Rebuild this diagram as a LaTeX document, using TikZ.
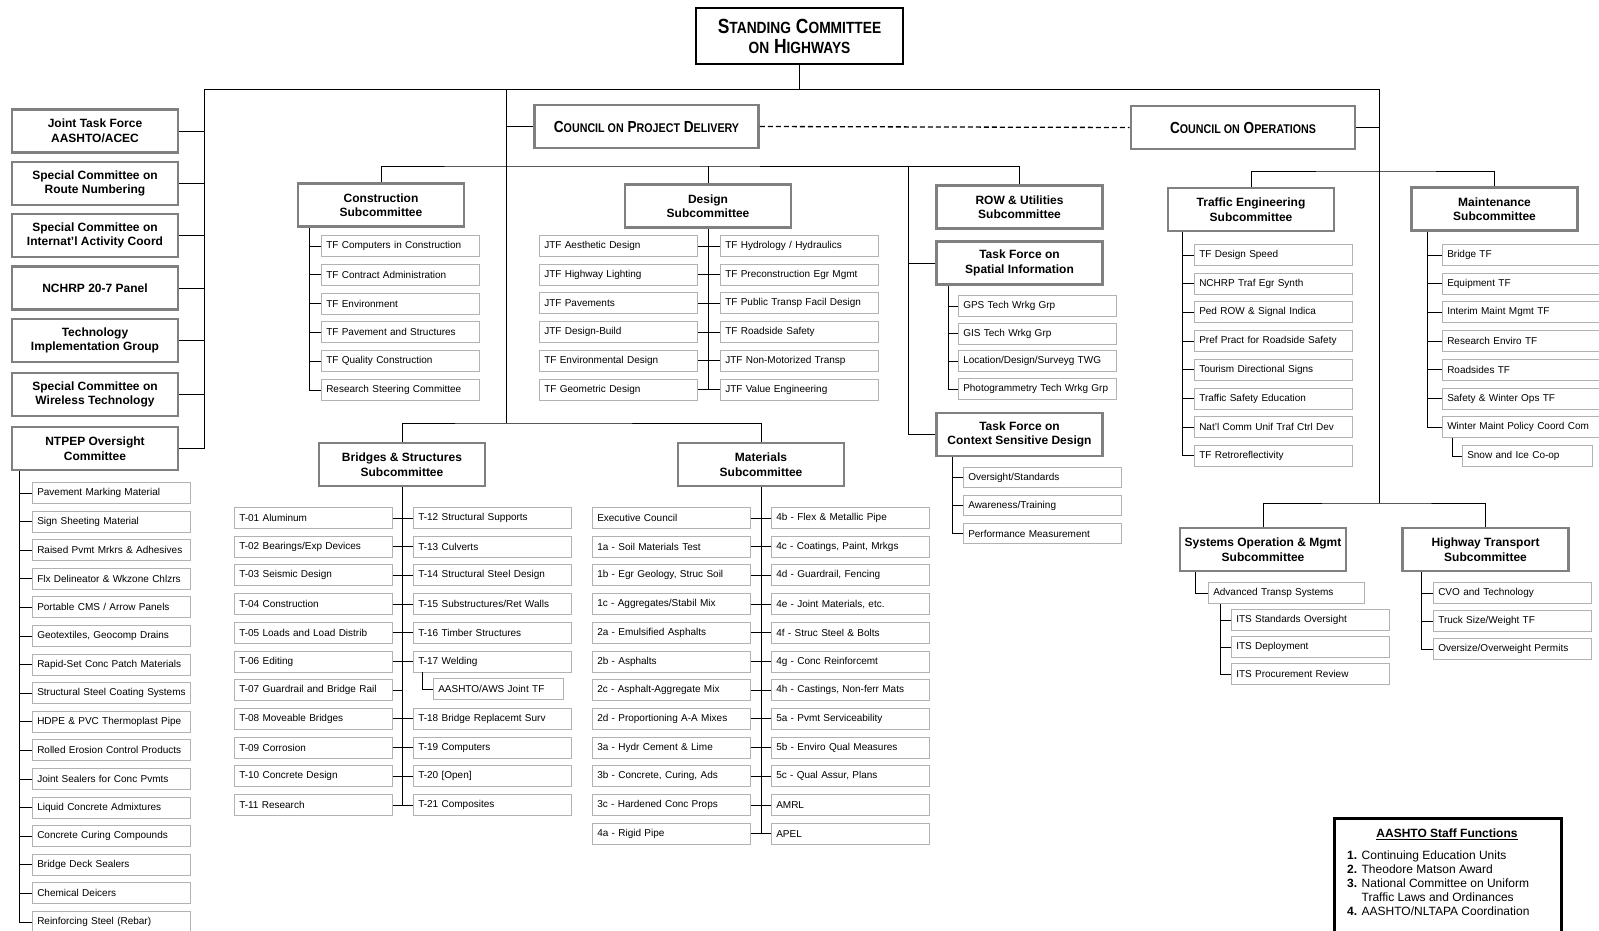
\documentclass[tikz,border=0pt]{standalone}
\usepackage{fontspec}
\setmainfont{Liberation Sans}
\newfontfamily\narrowfont[FakeStretch=0.85]{Liberation Sans}
\newcommand\smc[2][12.6]{{\fontsize{#1}{16}\selectfont #2}}

\tikzset{
  bigbox/.style={draw=black!50, line width=2.8pt, fill=white, align=center,
    minimum width=166pt, minimum height=43pt, inner sep=1pt,
    font=\fontsize{12}{14.5}\selectfont\bfseries},
  councilbox/.style={bigbox, minimum width=224pt,
    font=\narrowfont\bfseries\fontsize{16}{18}\selectfont},
  smallbox/.style={draw=black!30, line width=0.9pt, anchor=north west,
    minimum height=21pt, text width=148.5pt, inner xsep=4.8pt, inner ysep=0pt,
    align=left, font=\fontsize{10}{11}\selectfont},
  link/.style={line width=0.9pt},
}

\begin{document}
\begin{tikzpicture}[x=1pt, y=-1pt]
\useasboundingbox (0,0) rectangle (1599,930);
\fill[white] (0,0) rectangle (1599,930);

% top
\node[draw, line width=2.8pt, minimum width=207pt, minimum height=56pt, align=center,
  font=\narrowfont\bfseries\fontsize{20.5}{20}\selectfont] (sch) at (799.5,36)
  {S\smc[16.2]{TANDING} C\smc[16.2]{OMMITTEE}\\\smc[16.2]{ON} H\smc[16.2]{IGHWAYS}};
\coordinate (busL) at (204,89);
\coordinate (busM) at (506,89);
\coordinate (busR) at (1379,89);
\draw[link] (sch.south) -- (sch.south |- busL);
\draw[link] (busL) -- (busR);

% special committees
\node[bigbox] (jtf)   at (95,131)   {Joint Task Force\\AASHTO/ACEC};
\node[bigbox] (scrn)  at (95,183.5) {Special Committee on\\Route Numbering};
\node[bigbox] (scia)  at (95,235.5) {Special Committee on\\Internat'l Activity Coord};
\node[bigbox] (nchrp) at (95,288)   {NCHRP 20-7 Panel};
\node[bigbox] (tig)   at (95,340.5) {Technology\\Implementation Group};
\node[bigbox] (scwt)  at (95,394.5) {Special Committee on\\Wireless Technology};
\node[bigbox] (ntpep) at (95,448.5) {NTPEP Oversight\\Committee};
\draw[link] (busL) -- (busL |- ntpep.east);
\foreach \n in {jtf,scrn,scia,nchrp,tig,scwt,ntpep}
  \draw[link] (\n.east) -- (\n.east -| busL);

\foreach \t [count=\i from 0] in {Pavement Marking Material, Sign Sheeting Material,
    Raised Pvmt Mrkrs \& Adhesives, Flx Delineator \& Wkzone Chlzrs,
    Portable CMS / Arrow Panels, {Geotextiles, Geocomp Drains},
    Rapid-Set Conc Patch Materials, Structural Steel Coating Systems,
    HDPE \& PVC Thermoplast Pipe, Rolled Erosion Control Products,
    Joint Sealers for Conc Pvmts, Liquid Concrete Admixtures,
    Concrete Curing Compounds, Bridge Deck Sealers, Chemical Deicers,
    Reinforcing Steel (Rebar)}
  \node[smallbox] (nt\i) at (32,482+28.6*\i) {\t};
\draw[link] ([xshift=9pt]ntpep.south west) coordinate (ntbar) |- (nt15.west);
\foreach \i in {0,...,14} \draw[link] (ntbar |- nt\i.west) -- (nt\i.west);

% project delivery
\node[councilbox] (cpd) at (646.5,126.5) {C\smc{OUNCIL ON} P\smc{ROJECT} D\smc{ELIVERY}};
\node[bigbox] (cs)      at (381,205)      {Construction\\Subcommittee};
\node[bigbox] (ds)      at (708,206)      {Design\\Subcommittee};
\node[bigbox] (row)     at (1019.5,207)   {ROW \& Utilities\\Subcommittee};
\node[bigbox] (spatial) at (1019.5,263)   {Task Force on\\Spatial Information};
\node[bigbox] (csd)     at (1019.5,434.5) {Task Force on\\Context Sensitive Design};
\node[bigbox] (bs)      at (402,464.5)    {Bridges \& Structures\\Subcommittee};
\node[bigbox] (mats)    at (761,464.5)    {Materials\\Subcommittee};
\coordinate (pdA) at (506,166);
\coordinate (pdB) at (506,423);
\coordinate (pdC) at (908,166);
\draw[link] (busM) -- (pdB);
\draw[link] (cpd.west) -- (cpd.west -| busM);
\draw[link] (cs.north) |- (pdA) -| (row.north);
\draw[link] (ds.north) -- (ds.north |- pdA);
\draw[link] (pdC) |- (csd.west);
\draw[link] (spatial.west) -- (spatial.west -| pdC);
\draw[link] (bs.north) |- (pdB) -| (mats.north);

\foreach \t [count=\i from 0] in {TF Computers in Construction, TF Contract Administration,
    TF Environment, TF Pavement and Structures, TF Quality Construction,
    Research Steering Committee}
  \node[smallbox] (cs\i) at (321,235+28.8*\i) {\t};
\draw[link] ([xshift=13pt]cs.south west) coordinate (csbar) |- (cs5.west);
\foreach \i in {0,...,4} \draw[link] (csbar |- cs\i.west) -- (cs\i.west);

\foreach \t [count=\i from 0] in {JTF Aesthetic Design, JTF Highway Lighting, JTF Pavements,
    JTF Design-Build, TF Environmental Design, TF Geometric Design}
  \node[smallbox] (dl\i) at (539,235+28.7*\i) {\t};
\foreach \t [count=\i from 0] in {TF Hydrology / Hydraulics, TF Preconstruction Egr Mgmt,
    TF Public Transp Facil Design, TF Roadside Safety, JTF Non-Motorized Transp,
    JTF Value Engineering}
  \node[smallbox] (dr\i) at (720,235+28.7*\i) {\t};
\draw[link] (ds.south) -- (ds.south |- dl5.east);
\foreach \i in {0,...,5} \draw[link] (dl\i.east) -- (dr\i.west);

\foreach \t [count=\i from 0] in {GPS Tech Wrkg Grp, GIS Tech Wrkg Grp,
    Location/Design/Surveyg TWG, Photogrammetry Tech Wrkg Grp}
  \node[smallbox] (sp\i) at (958,295+27.7*\i) {\t};
\draw[link] ([xshift=13pt]spatial.south west) coordinate (spbar) |- (sp3.west);
\foreach \i in {0,...,2} \draw[link] (spbar |- sp\i.west) -- (sp\i.west);

\foreach \t [count=\i from 0] in {Oversight/Standards, Awareness/Training,
    Performance Measurement}
  \node[smallbox, minimum height=20pt] (cd\i) at (963,467+28*\i) {\t};
\draw[link] ([xshift=17pt]csd.south west) coordinate (cdbar) |- (cd2.west);
\foreach \i in {0,1} \draw[link] (cdbar |- cd\i.west) -- (cd\i.west);

\foreach \t [count=\i from 0] in {T-01 Aluminum, T-02 Bearings/Exp Devices, T-03 Seismic Design,
    T-04 Construction, T-05 Loads and Load Distrib, T-06 Editing,
    T-07 Guardrail and Bridge Rail, T-08 Moveable Bridges, T-09 Corrosion,
    T-10 Concrete Design, T-11 Research}
  \node[smallbox] (bl\i) at (234,507+28.7*\i) {\t};
\foreach \r/\t in {0/T-12 Structural Supports, 1/T-13 Culverts, 2/T-14 Structural Steel Design,
    3/{T-15 Substructures/Ret Walls}, 4/T-16 Timber Structures, 5/T-17 Welding,
    7/T-18 Bridge Replacemt Surv, 8/T-19 Computers, 9/{T-20 [Open]}, 10/T-21 Composites}
  {\node[smallbox] (br\r) at (413,507+28.7*\r) {\t};
   \draw[link] (bl\r.east) -- (br\r.west);}
\node[smallbox, text width=120pt] (aws) at (433,678) {AASHTO/AWS Joint TF};
\draw[link] (aws.west) -| ([xshift=9pt]br5.south west);
\draw[link] (bs.south) -- (bs.south |- bl10.east);
\draw[link] (bl6.east) -- (bl6.east -| bs.south);

\foreach \t [count=\i from 0] in {Executive Council, 1a - Soil Materials Test,
    {1b - Egr Geology, Struc Soil}, 1c - Aggregates/Stabil Mix, 2a - Emulsified Asphalts,
    2b - Asphalts, 2c - Asphalt-Aggregate Mix, 2d - Proportioning A-A Mixes,
    3a - Hydr Cement \& Lime, {3b - Concrete, Curing, Ads}, 3c - Hardened Conc Props,
    4a - Rigid Pipe}
  \node[smallbox] (ml\i) at (592,507+28.7*\i) {\t};
\foreach \t [count=\i from 0] in {4b - Flex \& Metallic Pipe, {4c - Coatings, Paint, Mrkgs},
    {4d - Guardrail, Fencing}, {4e - Joint Materials, etc.}, 4f - Struc Steel \& Bolts,
    4g - Conc Reinforcemt, {4h - Castings, Non-ferr Mats}, 5a - Pvmt Serviceability,
    5b - Enviro Qual Measures, {5c - Qual Assur, Plans}, AMRL, APEL}
  \node[smallbox] (mr\i) at (771,507+28.7*\i) {\t};
\draw[link] (mats.south) -- (mats.south |- ml11.east);
\foreach \i in {0,...,11} \draw[link] (ml\i.east) -- (mr\i.west);

% operations
\node[councilbox] (coo) at (1243,127.5) {C\smc{OUNCIL ON} O\smc{PERATIONS}};
\draw[dashed, line width=1.3pt, dash pattern=on 5pt off 3pt] (cpd.east) -- (coo.west);
\node[bigbox] (te)  at (1251,209.5)   {Traffic Engineering\\Subcommittee};
\node[bigbox] (mnt) at (1494.5,209)   {Maintenance\\Subcommittee};
\node[bigbox] (sys) at (1263,549.5)   {Systems Operation \& Mgmt\\Subcommittee};
\node[bigbox] (hwy) at (1485.5,549.5) {Highway Transport\\Subcommittee};
\coordinate (opA) at (1379,171);
\coordinate (opB) at (1379,503);
\draw[link] (busR) -- (opB);
\draw[link] (coo.east) -- (coo.east -| busR);
\draw[link] (te.north) |- (opA) -| (mnt.north);
\draw[link] (sys.north) |- (opB) -| (hwy.north);

\foreach \t [count=\i from 0] in {TF Design Speed, NCHRP Traf Egr Synth,
    Ped ROW \& Signal Indica, Pref Pract for Roadside Safety, Tourism Directional Signs,
    Traffic Safety Education, Nat'l Comm Unif Traf Ctrl Dev, TF Retroreflectivity}
  \node[smallbox] (te\i) at (1194,244+28.7*\i) {\t};
\draw[link] ([xshift=16pt]te.south west) coordinate (tebar) |- (te7.west);
\foreach \i in {0,...,6} \draw[link] (tebar |- te\i.west) -- (te\i.west);

\foreach \t [count=\i from 0] in {Bridge TF, Equipment TF, Interim Maint Mgmt TF,
    Research Enviro TF, Roadsides TF, Safety \& Winter Ops TF, Winter Maint Policy Coord Com}
  \node[smallbox] (mt\i) at (1442,244+28.7*\i) {\t};
\draw[link] ([xshift=17pt]mnt.south west) coordinate (mtbar) |- (mt6.west);
\foreach \i in {0,...,5} \draw[link] (mtbar |- mt\i.west) -- (mt\i.west);
\node[smallbox, text width=120pt] (snow) at (1462,445) {Snow and Ice Co-op};
\draw[link] (snow.west) -| ([xshift=10pt]mt6.south west);

\node[smallbox, text width=146pt] (ats) at (1208,582) {Advanced Transp Systems};
\draw[link] (ats.west) -| ([xshift=17pt]sys.south west);
\foreach \t [count=\i from 0] in {ITS Standards Oversight, ITS Deployment,
    ITS Procurement Review}
  \node[smallbox] (its\i) at (1231,609+27*\i) {\t};
\draw[link] ([xshift=12pt]ats.south west) coordinate (itsbar) |- (its2.west);
\foreach \i in {0,1} \draw[link] (itsbar |- its\i.west) -- (its\i.west);

\foreach \t [count=\i from 0] in {CVO and Technology, Truck Size/Weight TF,
    Oversize/Overweight Permits}
  \node[smallbox] (ht\i) at (1433,582+28*\i) {\t};
\draw[link] ([xshift=20pt]hwy.south west) coordinate (htbar) |- (ht2.west);
\foreach \i in {0,1} \draw[link] (htbar |- ht\i.west) -- (ht\i.west);

% staff functions
\node[draw, line width=2.6pt, anchor=north west, minimum width=227pt,
  minimum height=125pt] (staff) at (1333,817) {};
\node[font=\fontsize{12}{14}\selectfont\bfseries] (stafftitle) at (1447,834)
  {\underline{AASHTO Staff Functions}};
\node[anchor=north west, align=left, inner sep=0pt, font=\fontsize{12}{14}\selectfont]
  (stafflist) at (1347,851)
  {\textbf{1.} Continuing Education Units\\
   \textbf{2.} Theodore Matson Award\\
   \textbf{3.} National Committee on Uniform\\
   \hphantom{\textbf{3.} }Traffic Laws and Ordinances\\
   \textbf{4.} AASHTO/NLTAPA Coordination};
\end{tikzpicture}
\end{document}
